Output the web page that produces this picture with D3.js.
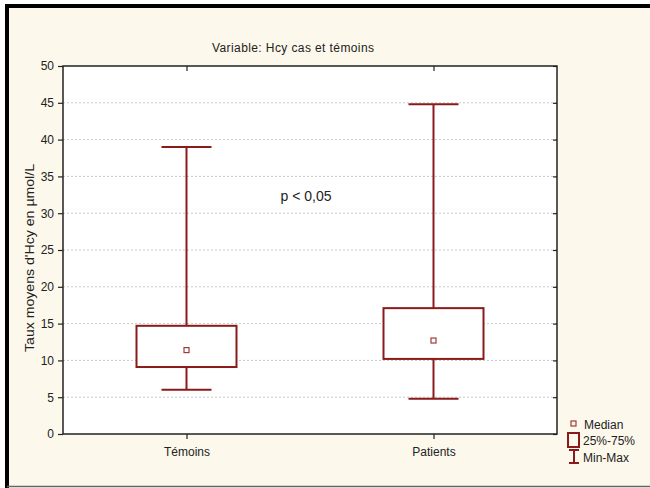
<!DOCTYPE html>
<html>
<head>
<meta charset="utf-8">
<script src="https://cdn.jsdelivr.net/npm/d3@7"></script>
<style>
  body { margin: 0; background: #fff; }
  svg { display: block; }
  text { font-family: "Liberation Sans", Arial, sans-serif; fill: #222; }
</style>
</head>
<body>
<div id="chart"></div>
<script>
// data
var groups = ["Témoins", "Patients"];
var mins = [6, 4.8];
var q1s = [9.1, 10.2];
var medians = [11.4, 12.7];
var q3s = [14.7, 17.1];
var maxs = [39, 44.8];
var yTicks = [0, 5, 10, 15, 20, 25, 30, 35, 40, 45, 50];

var width = 650, height = 488;
var margin = {top: 66, right: 93, bottom: 54, left: 63};
var w = width - margin.left - margin.right;
var h = height - margin.top - margin.bottom;
var red = "#8b1a1a";

var svg = d3.select("#chart").append("svg")
  .attr("width", width)
  .attr("height", height);

// cream page with thick black frame
svg.append("rect").attr("x", 0).attr("y", 0).attr("width", width).attr("height", height).attr("fill", "#fff");
svg.append("rect").attr("x", 7).attr("y", 6).attr("width", width).attr("height", 480)
  .attr("fill", "#fdf8ec");
svg.append("line").attr("x1", 7).attr("x2", width).attr("y1", 6).attr("y2", 6)
  .attr("stroke", "#000").attr("stroke-width", 4);
svg.append("line").attr("x1", 7).attr("x2", 7).attr("y1", 4).attr("y2", height)
  .attr("stroke", "#000").attr("stroke-width", 4);
svg.append("line").attr("x1", 7).attr("x2", width).attr("y1", 486.5).attr("y2", 486.5)
  .attr("stroke", "#666").attr("stroke-width", 1.5);

var g = svg.append("g").attr("transform", `translate(${margin.left},${margin.top})`);

var x = d3.scalePoint().domain(groups).range([0, w]).padding(0.5);
var y = d3.scaleLinear().domain([0, 50]).range([h, 0]);

g.append("rect").attr("width", w).attr("height", h).attr("fill", "#fff");

// dotted grid
g.selectAll(".grid").data(yTicks.filter(d => d > 0 && d < 50)).enter().append("line")
  .attr("x1", 0).attr("x2", w)
  .attr("y1", d => y(d)).attr("y2", d => y(d))
  .attr("stroke", "#c8c8c8").attr("stroke-dasharray", "2,2");

// axes
var yAxis = g.append("g").call(d3.axisLeft(y).tickValues(yTicks).tickSize(5).tickPadding(4));
var xAxis = g.append("g").attr("transform", `translate(0,${h})`)
  .call(d3.axisBottom(x).tickSize(5).tickPadding(8));
g.append("g").call(d3.axisTop(x).tickSize(-5).tickFormat(""));
g.append("g").attr("transform", `translate(${w},0)`)
  .call(d3.axisRight(y).tickValues(yTicks).tickSize(-4).tickFormat(""));
g.selectAll(".domain").remove();
g.selectAll(".tick line").attr("stroke", "#222").attr("stroke-width", 1.2);
g.selectAll(".tick text").attr("font-size", 12).attr("fill", "#222")
  .attr("font-family", "'Liberation Sans', Arial, sans-serif");
g.append("rect").attr("width", w).attr("height", h)
  .attr("fill", "none").attr("stroke", "#222").attr("stroke-width", 1.5);

// box plots
var boxW = 100, capW = 50;
var items = groups.map((name, i) => ({name: name, min: mins[i], q1: q1s[i], med: medians[i], q3: q3s[i], max: maxs[i]}));
var box = g.selectAll(".box").data(items).enter().append("g")
  .attr("transform", d => `translate(${x(d.name)},0)`);

box.append("line").attr("x1", 0).attr("x2", 0)
  .attr("y1", d => y(d.max)).attr("y2", d => y(d.q3))
  .attr("stroke", red).attr("stroke-width", 2);
box.append("line").attr("x1", 0).attr("x2", 0)
  .attr("y1", d => y(d.q1)).attr("y2", d => y(d.min))
  .attr("stroke", red).attr("stroke-width", 2);
box.append("line").attr("x1", -capW / 2).attr("x2", capW / 2)
  .attr("y1", d => y(d.max)).attr("y2", d => y(d.max))
  .attr("stroke", red).attr("stroke-width", 2);
box.append("line").attr("x1", -capW / 2).attr("x2", capW / 2)
  .attr("y1", d => y(d.min)).attr("y2", d => y(d.min))
  .attr("stroke", red).attr("stroke-width", 2);
box.append("rect").attr("x", -boxW / 2).attr("width", boxW)
  .attr("y", d => y(d.q3)).attr("height", d => y(d.q1) - y(d.q3))
  .attr("fill", "#fff").attr("stroke", red).attr("stroke-width", 2);
box.append("rect").attr("x", -2.5).attr("width", 5)
  .attr("y", d => y(d.med) - 2.5).attr("height", 5)
  .attr("fill", "#fff").attr("stroke", "#a33a3a").attr("stroke-width", 1.2);

// title and annotation
svg.append("text").attr("x", 293).attr("y", 52).attr("text-anchor", "middle")
  .attr("font-size", 12).attr("textLength", 162).text("Variable: Hcy cas et témoins");
svg.append("text").attr("x", 306).attr("y", 201).attr("text-anchor", "middle")
  .attr("font-size", 14).attr("font-family", "'Open Sans', sans-serif").attr("fill", "#1a1a2a")
  .text("p < 0,05");
svg.append("text").attr("transform", "translate(34,258) rotate(-90)")
  .attr("text-anchor", "middle").attr("font-size", 12).attr("textLength", 188)
  .attr("lengthAdjust", "spacingAndGlyphs")
  .text("Taux moyens d'Hcy en µmol/L");

// legend
var lg = svg.append("g").attr("transform", "translate(566,418)");
lg.append("rect").attr("x", 5).attr("y", 3).attr("width", 5).attr("height", 5)
  .attr("fill", "none").attr("stroke", "#a33a3a").attr("stroke-width", 1.2);
lg.append("text").attr("x", 18).attr("y", 11).attr("font-size", 12).text("Median");
lg.append("rect").attr("x", 2).attr("y", 15).attr("width", 11).attr("height", 14)
  .attr("fill", "none").attr("stroke", red).attr("stroke-width", 2);
lg.append("text").attr("x", 17).attr("y", 27).attr("font-size", 12).text("25%-75%");
lg.append("line").attr("x1", 3).attr("x2", 13).attr("y1", 32).attr("y2", 32).attr("stroke", red).attr("stroke-width", 2);
lg.append("line").attr("x1", 8).attr("x2", 8).attr("y1", 32).attr("y2", 45).attr("stroke", red).attr("stroke-width", 2);
lg.append("line").attr("x1", 3).attr("x2", 13).attr("y1", 45).attr("y2", 45).attr("stroke", red).attr("stroke-width", 2);
lg.append("text").attr("x", 17).attr("y", 44).attr("font-size", 12).text("Min-Max");
</script>
</body>
</html>
